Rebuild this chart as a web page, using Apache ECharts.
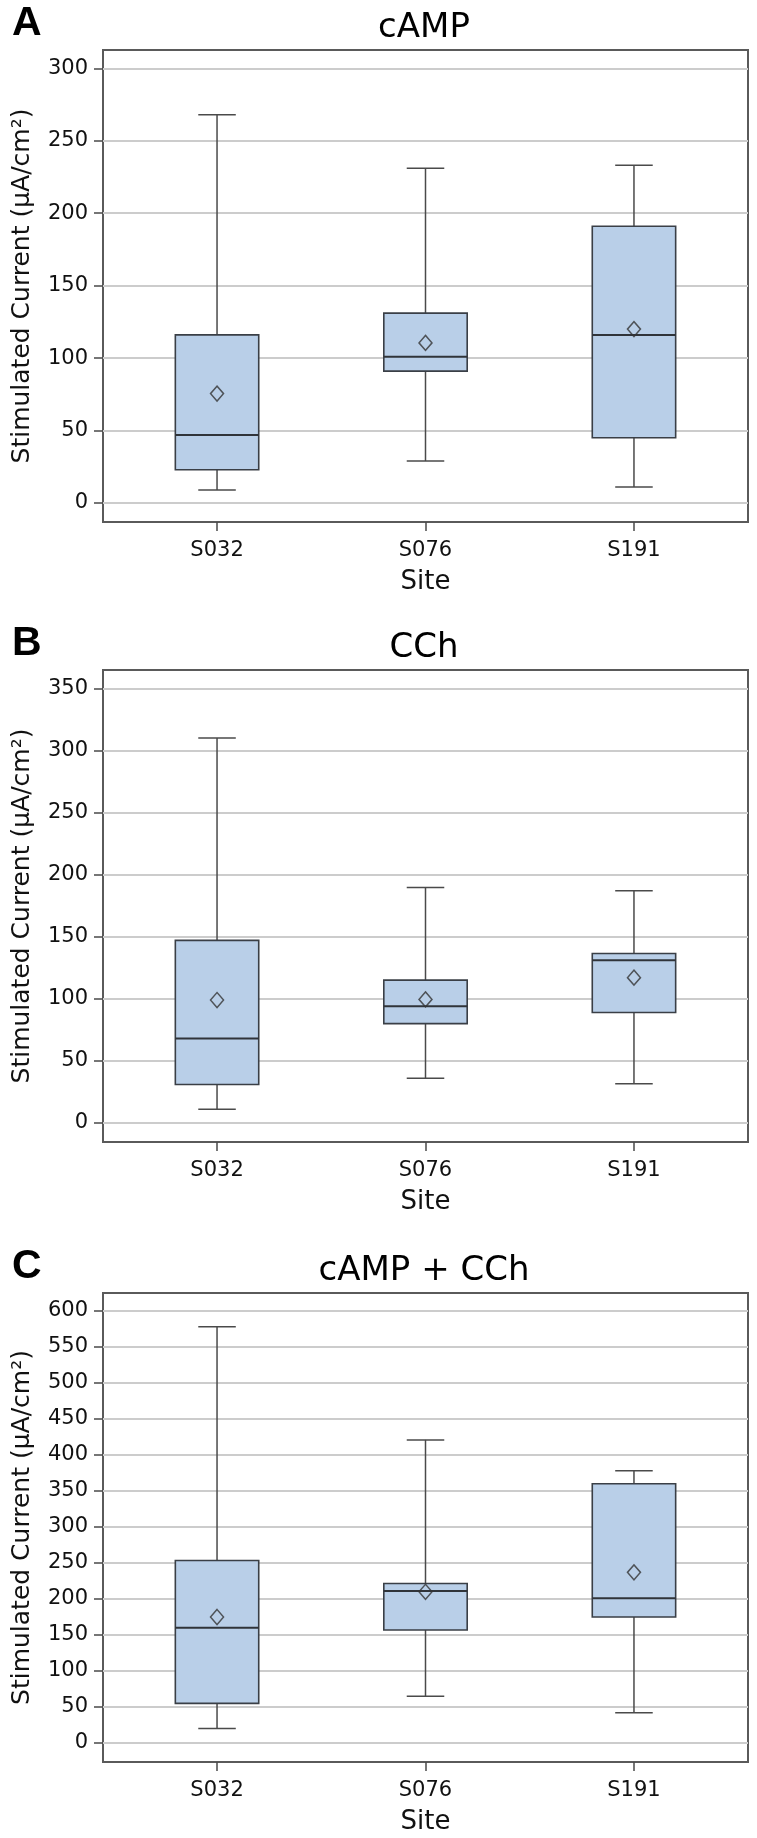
<!DOCTYPE html>
<html>
<head>
<meta charset="utf-8">
<script src="https://cdn.jsdelivr.net/npm/echarts@6/dist/echarts.min.js"></script>
<style>
  html, body { margin: 0; padding: 0; background: #fff; }
  #chart { width: 757px; height: 1838px; }
</style>
</head>
<body>
<div id="chart"></div>
<script>
var sites = ['S032', 'S076', 'S191'];
var panelTitles = ['cAMP', 'CCh', 'cAMP + CCh'];
var panelLetters = ['A', 'B', 'C'];
var yName = 'Stimulated Current (\u03bcA/cm\u00b2)';

// A - cAMP
var campLow = [9, 29, 11];
var campQ1 = [23, 91, 45];
var campMedian = [47, 101, 116];
var campQ3 = [116, 131, 191];
var campHigh = [268, 231, 233];
var campMean = [75.5, 110.5, 120];
var campTicks = [0, 50, 100, 150, 200, 250, 300];

// B - CCh
var cchLow = [11, 36, 31.5];
var cchQ1 = [31, 80, 89];
var cchMedian = [68, 94, 131];
var cchQ3 = [147, 115, 136.5];
var cchHigh = [310, 189.5, 187];
var cchMean = [99, 99.5, 117];
var cchTicks = [0, 50, 100, 150, 200, 250, 300, 350];

// C - cAMP + CCh
var comboLow = [20, 65, 42];
var comboQ1 = [55, 157, 175];
var comboMedian = [160, 211, 201];
var comboQ3 = [253.5, 221.5, 360];
var comboHigh = [578, 421, 378];
var comboMean = [175, 210, 237];
var comboTicks = [0, 50, 100, 150, 200, 250, 300, 350, 400, 450, 500, 550, 600];

var panels = [
  {low: campLow, q1: campQ1, med: campMedian, q3: campQ3, high: campHigh, mean: campMean, ticks: campTicks,
   top: 50, height: 472, min: -13.1, max: 312.6},
  {low: cchLow, q1: cchQ1, med: cchMedian, q3: cchQ3, high: cchHigh, mean: cchMean, ticks: cchTicks,
   top: 670, height: 472, min: -15.3, max: 364.7},
  {low: comboLow, q1: comboQ1, med: comboMedian, q3: comboQ3, high: comboHigh, mean: comboMean, ticks: comboTicks,
   top: 1293, height: 469, min: -26.4, max: 625}
];

var font = 'DejaVu Sans';
var textColor = '#111';
var lineColor = '#4a4a4a';

function renderBox(params, api) {
  var x = api.value(0);
  var pLow = api.coord([x, api.value(1)]);
  var pQ1 = api.coord([x, api.value(2)]);
  var pMed = api.coord([x, api.value(3)]);
  var pQ3 = api.coord([x, api.value(4)]);
  var pHigh = api.coord([x, api.value(5)]);
  var boxW = api.size([0.4, 0])[0];
  var capW = api.size([0.18, 0])[0];
  var cx = pMed[0];
  var ls = {stroke: lineColor, lineWidth: 1.5};
  return {
    type: 'group',
    children: [
      {type: 'line', shape: {x1: cx, y1: pHigh[1], x2: cx, y2: pQ3[1]}, style: ls},
      {type: 'line', shape: {x1: cx, y1: pQ1[1], x2: cx, y2: pLow[1]}, style: ls},
      {type: 'line', shape: {x1: cx - capW / 2, y1: pHigh[1], x2: cx + capW / 2, y2: pHigh[1]}, style: ls},
      {type: 'line', shape: {x1: cx - capW / 2, y1: pLow[1], x2: cx + capW / 2, y2: pLow[1]}, style: ls},
      {type: 'rect', shape: {x: cx - boxW / 2, y: pQ3[1], width: boxW, height: pQ1[1] - pQ3[1]},
       style: {fill: '#b9cfe8', stroke: '#3a3f46', lineWidth: 1.6}},
      {type: 'line', shape: {x1: cx - boxW / 2, y1: pMed[1], x2: cx + boxW / 2, y2: pMed[1]},
       style: {stroke: '#30343a', lineWidth: 2}}
    ]
  };
}

var titles = [], grids = [], xAxes = [], yAxes = [], series = [];

panels.forEach(function (p, i) {
  titles.push({
    text: panelLetters[i], left: 12, top: p.top - 26, padding: 0,
    textVerticalAlign: 'middle',
    textStyle: {fontFamily: 'Liberation Sans', fontWeight: 'bold', fontSize: 41, color: '#000'}
  });
  titles.push({
    text: panelTitles[i], left: 424, top: p.top - 22, padding: 0,
    textAlign: 'center', textVerticalAlign: 'middle',
    textStyle: {fontFamily: font, fontWeight: 'normal', fontSize: 34, color: '#000'}
  });
  grids.push({
    left: 103, width: 645, top: p.top, height: p.height,
    show: true, borderColor: '#5a5a5a', borderWidth: 2, backgroundColor: '#fff'
  });
  xAxes.push({
    gridIndex: i, type: 'value', min: -0.547, max: 2.547,
    axisLine: {show: false, onZero: false},
    splitLine: {show: false},
    axisTick: {show: true, customValues: [0, 1, 2], length: 9, lineStyle: {color: lineColor, width: 1.5}},
    axisLabel: {
      customValues: [0, 1, 2], margin: 18, fontSize: 21, fontFamily: font, color: textColor,
      formatter: function (v) { return sites[Math.round(v)]; }
    },
    name: 'Site', nameLocation: 'middle', nameGap: 47,
    nameTextStyle: {fontSize: 26, fontFamily: font, color: textColor}
  });
  yAxes.push({
    gridIndex: i, type: 'value', min: p.min, max: p.max, minInterval: 50, maxInterval: 50,
    axisLine: {show: false, onZero: false},
    axisTick: {show: true, customValues: p.ticks, length: 9, lineStyle: {color: lineColor, width: 1.5}},
    axisLabel: {customValues: p.ticks, margin: 15, fontSize: 21, fontFamily: font, color: textColor},
    splitLine: {show: true, lineStyle: {color: '#cccccc', width: 2}},
    name: yName, nameLocation: 'middle', nameGap: 68,
    nameTextStyle: {fontSize: 25, fontFamily: font, color: textColor}
  });
  series.push({
    type: 'custom', xAxisIndex: i, yAxisIndex: i,
    renderItem: renderBox,
    encode: {x: 0, y: [1, 2, 3, 4, 5]},
    data: sites.map(function (s, j) { return [j, p.low[j], p.q1[j], p.med[j], p.q3[j], p.high[j]]; }),
    silent: true, z: 3
  });
  series.push({
    type: 'scatter', xAxisIndex: i, yAxisIndex: i,
    symbol: 'diamond', symbolSize: [13, 15],
    itemStyle: {color: 'rgba(0,0,0,0)', borderColor: '#333', borderWidth: 1.5},
    data: sites.map(function (s, j) { return [j, p.mean[j]]; }),
    silent: true, z: 5
  });
});

var chart = echarts.init(document.getElementById('chart'), null, {renderer: 'canvas'});
chart.setOption({
  animation: false,
  backgroundColor: '#fff',
  textStyle: {fontFamily: font},
  title: titles,
  grid: grids,
  xAxis: xAxes,
  yAxis: yAxes,
  series: series
});
</script>
</body>
</html>
